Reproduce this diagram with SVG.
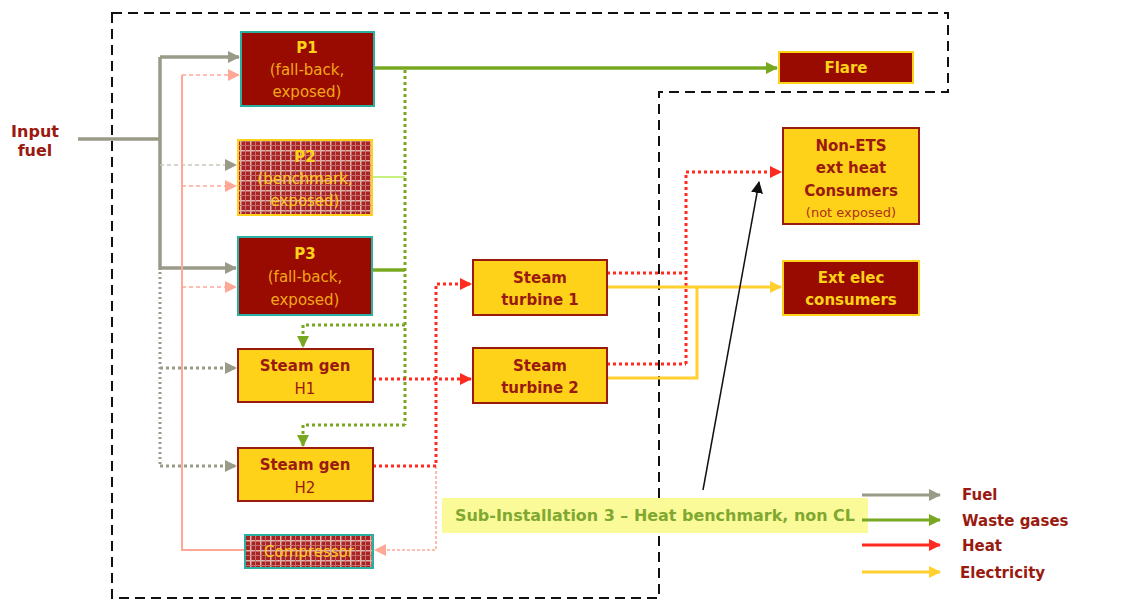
<svg xmlns="http://www.w3.org/2000/svg" width="1126" height="601" viewBox="0 0 1126 601">
<defs>
<style>
text{font-family:"DejaVu Sans","Verdana",sans-serif;text-anchor:middle}
.b{font-weight:bold;font-size:15px}
.yl{fill:#ffd21a}
.or{fill:#f0a818;font-size:15px}
.dr{fill:#9a1a10}
.nr{font-size:15px}
.red{fill:#990a00;stroke:#2ab0a0;stroke-width:2}
.redy{fill:#990a00;stroke:#ffd21a;stroke-width:2}
.yel{fill:#ffd21a;stroke:#9a1a10;stroke-width:2}
.fuel{stroke:#9a9a88;fill:none}
.waste{stroke:#78a820;fill:none}
.heat{stroke:#ff2a20;fill:none}
.elec{stroke:#ffd030;fill:none}
.pink{stroke:#ffa898;fill:none}
.leg{font-weight:bold;font-size:15px;fill:#9a1a10;text-anchor:start}
</style>
<pattern id="hatch" width="10" height="10" patternUnits="userSpaceOnUse">
<rect width="10" height="10" fill="#a82424"/>
<rect x="0" y="0" width="10" height="1.5" fill="#e0b0a8"/>
<rect x="0" y="0" width="1.5" height="10" fill="#e0b0a8"/>
<rect x="5" y="0" width="1" height="10" fill="#c87070"/>
<rect x="0" y="5" width="10" height="1" fill="#c87070"/>
</pattern>
<marker id="aG" markerWidth="12" markerHeight="12" refX="11" refY="6" orient="auto" markerUnits="userSpaceOnUse"><path d="M0,0 L12,6 L0,12 z" fill="#9a9a88"/></marker>
<marker id="aW" markerWidth="12" markerHeight="12" refX="11" refY="6" orient="auto" markerUnits="userSpaceOnUse"><path d="M0,0 L12,6 L0,12 z" fill="#78a820"/></marker>
<marker id="aH" markerWidth="12" markerHeight="12" refX="11" refY="6" orient="auto" markerUnits="userSpaceOnUse"><path d="M0,0 L12,6 L0,12 z" fill="#ff2a20"/></marker>
<marker id="aE" markerWidth="12" markerHeight="12" refX="11" refY="6" orient="auto" markerUnits="userSpaceOnUse"><path d="M0,0 L12,6 L0,12 z" fill="#ffd030"/></marker>
<marker id="aP" markerWidth="12" markerHeight="12" refX="11" refY="6" orient="auto" markerUnits="userSpaceOnUse"><path d="M0,0 L12,6 L0,12 z" fill="#ffa898"/></marker>
<marker id="aK" markerWidth="12" markerHeight="12" refX="11" refY="6" orient="auto" markerUnits="userSpaceOnUse"><path d="M0,0 L12,6 L0,12 z" fill="#111"/></marker>
</defs>
<rect width="1126" height="601" fill="#ffffff"/>

<g id="boundary">
<path d="M112,13 H948 V92 H659 V598 H112 Z" fill="none" stroke="#111" stroke-width="2" stroke-dasharray="10,6"/>
</g>

<g id="connectors">
<!-- fuel -->
<path class="fuel" d="M78,139 H160 M160,57 V270" stroke-width="3.5"/>
<path class="fuel" d="M160,57 H239" stroke-width="3.5" marker-end="url(#aG)"/>
<path class="fuel" d="M160,268 H236" stroke-width="3.5" marker-end="url(#aG)"/>
<path d="M160,165 H236" stroke="#c8c8b8" stroke-width="1.5" stroke-dasharray="4,3" fill="none" marker-end="url(#aG)"/>
<path class="fuel" d="M160,272 V466" stroke-width="3" stroke-dasharray="2,3"/>
<path class="fuel" d="M160,368 H236" stroke-width="3" stroke-dasharray="3,3" marker-end="url(#aG)"/>
<path class="fuel" d="M160,466 H236" stroke-width="3" stroke-dasharray="3,3" marker-end="url(#aG)"/>
<!-- pink heat return -->
<path class="pink" d="M182,75 V550 H245" stroke-width="2"/>
<path class="pink" d="M182,75 H239" stroke-width="1.5" stroke-dasharray="4,3" marker-end="url(#aP)"/>
<path class="pink" d="M182,186 H236" stroke-width="1.5" stroke-dasharray="4,3" marker-end="url(#aP)"/>
<path class="pink" d="M182,287 H236" stroke-width="1.5" stroke-dasharray="4,3" marker-end="url(#aP)"/>
<path class="pink" d="M436,466 V550 H375" stroke-width="1.5" stroke-dasharray="3,2" marker-end="url(#aP)"/>
<!-- waste gases -->
<path class="waste" d="M374,68 H777" stroke-width="3.5" marker-end="url(#aW)"/>
<path class="waste" d="M372,270 H405" stroke-width="3.5"/>
<path d="M372,177 H405" stroke="#c8f080" stroke-width="2" fill="none"/>
<path class="waste" d="M405,70 V425" stroke-width="3" stroke-dasharray="3,3"/>
<path class="waste" d="M405,325 H303 V347" stroke-width="3" stroke-dasharray="3,3" marker-end="url(#aW)"/>
<path class="waste" d="M405,425 H303 V446" stroke-width="3" stroke-dasharray="3,3" marker-end="url(#aW)"/>
<!-- heat -->
<path class="heat" d="M373,379 H471" stroke-width="3" stroke-dasharray="3,3" marker-end="url(#aH)"/>
<path class="heat" d="M373,466 H436 V284 H471" stroke-width="3" stroke-dasharray="3,3" marker-end="url(#aH)"/>
<path class="heat" d="M607,273 H686 M607,364 H686 M686,364 V172 H781" stroke-width="3" stroke-dasharray="3,3" marker-end="url(#aH)"/>
<!-- electricity -->
<path class="elec" d="M607,287 H781" stroke-width="3" marker-end="url(#aE)"/>
<path class="elec" d="M607,378 H697 V287" stroke-width="3"/>
<!-- annotation arrow -->
<path d="M703,490 L759,182" stroke="#111" stroke-width="1.5" fill="none" marker-end="url(#aK)"/>
</g>

<g id="input-fuel">
<text class="b dr" x="35" y="137" style="font-size:16px">Input</text>
<text class="b dr" x="35" y="156" style="font-size:16px">fuel</text>
</g>

<g id="p1">
<rect class="red" x="241" y="32" width="133" height="74"/>
<text class="b yl" x="307" y="53">P1</text>
<text class="or" x="307" y="75">(fall-back,</text>
<text class="or" x="307" y="97">exposed)</text>
</g>

<g id="p2">
<rect x="238" y="140" width="134" height="75" fill="url(#hatch)" stroke="#ffd21a" stroke-width="2"/>
<text class="b yl" x="305" y="162">P2</text>
<text class="or" x="305" y="184" style="fill:#ffc820">(benchmark,</text>
<text class="or" x="305" y="206" style="fill:#ffc820">exposed)</text>
</g>

<g id="p3">
<rect class="red" x="238" y="237" width="134" height="78"/>
<text class="b yl" x="305" y="259">P3</text>
<text class="or" x="305" y="282">(fall-back,</text>
<text class="or" x="305" y="305">exposed)</text>
</g>

<g id="h1">
<rect class="yel" x="238" y="349" width="135" height="53"/>
<text class="b dr" x="305" y="371">Steam gen</text>
<text class="nr dr" x="305" y="394">H1</text>
</g>

<g id="h2">
<rect class="yel" x="238" y="448" width="135" height="53"/>
<text class="b dr" x="305" y="470">Steam gen</text>
<text class="nr dr" x="305" y="493">H2</text>
</g>

<g id="compressor">
<rect x="245" y="535" width="128" height="33" fill="url(#hatch)" stroke="#2ab0a0" stroke-width="2"/>
<text class="nr" x="309" y="557" fill="#ffc820">Compressor</text>
</g>

<g id="st1">
<rect class="yel" x="473" y="260" width="134" height="55"/>
<text class="b dr" x="540" y="283">Steam</text>
<text class="b dr" x="540" y="305">turbine 1</text>
</g>

<g id="st2">
<rect class="yel" x="473" y="348" width="134" height="55"/>
<text class="b dr" x="540" y="371">Steam</text>
<text class="b dr" x="540" y="393">turbine 2</text>
</g>

<g id="flare">
<rect class="redy" x="779" y="52" width="134" height="31"/>
<text class="b yl" x="846" y="73">Flare</text>
</g>

<g id="non-ets">
<rect class="yel" x="783" y="128" width="136" height="96"/>
<text class="b dr" x="851" y="151">Non-ETS</text>
<text class="b dr" x="851" y="173">ext heat</text>
<text class="b dr" x="851" y="196">Consumers</text>
<text x="851" y="217" font-size="13" fill="#b03018">(not exposed)</text>
</g>

<g id="ext-elec">
<rect class="redy" x="783" y="261" width="136" height="54"/>
<text class="b yl" x="851" y="283">Ext elec</text>
<text class="b yl" x="851" y="305">consumers</text>
</g>

<g id="sub-installation">
<rect x="442" y="498" width="426" height="35" fill="#fafa98"/>
<text x="655" y="521" font-size="15" font-weight="bold" fill="#80a830" textLength="400" lengthAdjust="spacingAndGlyphs">Sub-Installation 3 – Heat benchmark, non CL</text>
</g>

<g id="legend">
<path d="M862,495 H940" stroke="#9a9a88" stroke-width="3" marker-end="url(#aG)"/>
<path d="M862,520 H940" stroke="#78a820" stroke-width="3" marker-end="url(#aW)"/>
<path d="M862,545 H940" stroke="#ff2a20" stroke-width="3" marker-end="url(#aH)"/>
<path d="M862,572 H940" stroke="#ffd030" stroke-width="3" marker-end="url(#aE)"/>
<text class="leg" x="962" y="500">Fuel</text>
<text class="leg" x="962" y="526">Waste gases</text>
<text class="leg" x="962" y="551">Heat</text>
<text class="leg" x="960" y="578">Electricity</text>
</g>
</svg>
